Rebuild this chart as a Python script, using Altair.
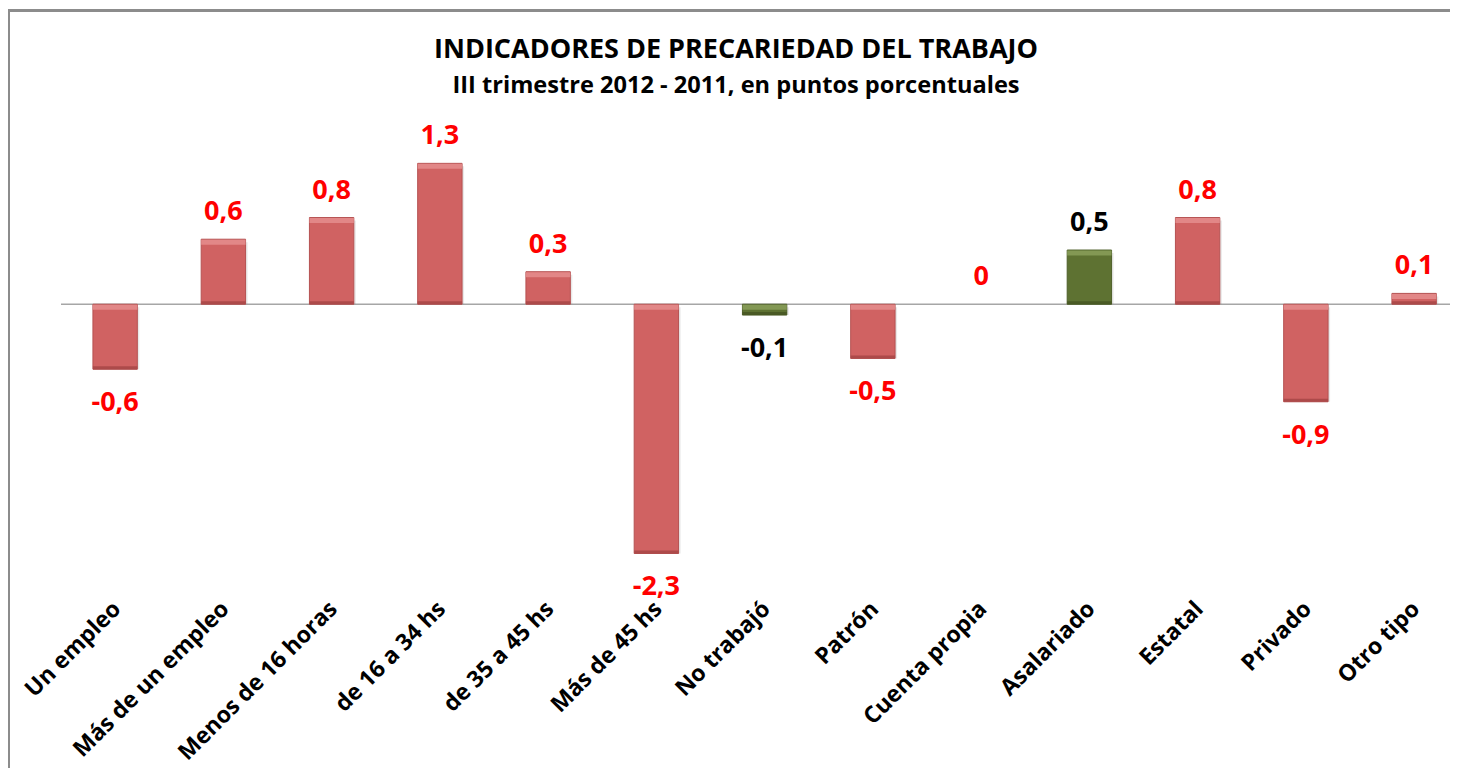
import altair as alt
import pandas as pd

# ---- data ----
categorias = ["Un empleo", "Más de un empleo", "Menos de 16 horas", "de 16 a 34 hs",
              "de 35 a 45 hs", "Más de 45 hs", "No trabajó", "Patrón", "Cuenta propia",
              "Asalariado", "Estatal", "Privado", "Otro tipo"]
valores = [-0.6, 0.6, 0.8, 1.3, 0.3, -2.3, -0.1, -0.5, 0.0, 0.5, 0.8, -0.9, 0.1]
grupo = ["rojo", "rojo", "rojo", "rojo", "rojo", "rojo", "verde", "rojo", "rojo",
         "verde", "rojo", "rojo", "rojo"]

TITULO = "INDICADORES DE PRECARIEDAD DEL TRABAJO"
SUBTITULO = "III trimestre 2012 - 2011, en puntos porcentuales"


def etiqueta(v):
    return "0" if v == 0 else f"{v:.1f}".replace(".", ",")


df = pd.DataFrame({
    "cat": categorias,
    "valor": valores,
    "grupo": grupo,
    "etiqueta": [etiqueta(v) for v in valores],
    "arriba": [max(v, 0.0) for v in valores],
    "abajo": [min(v, 0.0) for v in valores],
})

FONT = "Open Sans"
W, H = 1389, 466
PAD = {"left": 53, "top": 112, "right": 0, "bottom": 182}

x_enc = alt.X("cat:N", sort=categorias,
              scale=alt.Scale(paddingInner=0.59, paddingOuter=0.2107, align=0.70),
              axis=alt.Axis(title=None, labelAngle=315, labelAlign="right",
                            labelBaseline="middle", labelFont=FONT, labelFontWeight="bold",
                            labelFontSize=23, labelColor="#000000", domain=False,
                            ticks=False, grid=False, labelPadding=19, labelOffset=2,
                            labelOverlap=False, labelLimit=400))
y_scale = alt.Scale(domain=[-2.6, 1.7], nice=False, zero=False)
y_enc = alt.Y("valor:Q", scale=y_scale, axis=None)

base = alt.Chart(df)
uno = pd.DataFrame({"a": [0.0]})

marco_sup = alt.Chart(uno).mark_rule(color="#8C8C8C", strokeWidth=3).encode(
    x=alt.value(-53), x2=alt.value(W + 10), y=alt.value(-109.5))
marco_izq = alt.Chart(uno).mark_rule(color="#8C8C8C", strokeWidth=3).encode(
    x=alt.value(-52.5), y=alt.value(-111), y2=alt.value(H + 200))

cero = alt.Chart(uno).mark_rule(color="#A6A6A6", strokeWidth=1.5).encode(
    y=alt.Y("a:Q", scale=y_scale, axis=None), x=alt.value(0), x2=alt.value(W))

sombra = base.transform_filter(alt.datum.valor != 0).mark_bar(
    color="#7F7F7F", opacity=0.18, xOffset=2, yOffset=3
).encode(x=x_enc, y=alt.Y("arriba:Q", scale=y_scale, axis=None), y2=alt.Y2("abajo:Q"))

color_barra = alt.Color("grupo:N", scale=alt.Scale(domain=["rojo", "verde"],
                                                   range=["#D06262", "#5E7232"]), legend=None)
color_luz = alt.Color("grupo:N", scale=alt.Scale(domain=["rojo", "verde"],
                                                 range=["#E58E8E", "#8A9F5A"]), legend=None)
color_borde = alt.Color("grupo:N", scale=alt.Scale(domain=["rojo", "verde"],
                                                   range=["#A94848", "#485824"]), legend=None)

barras = base.transform_filter(alt.datum.valor != 0).mark_bar().encode(
    x=x_enc, y=alt.Y("arriba:Q", scale=y_scale, axis=None), y2=alt.Y2("abajo:Q"),
    color=color_barra, stroke=alt.Stroke("grupo:N", scale=alt.Scale(
        domain=["rojo", "verde"], range=["#B55252", "#4E5F2A"]), legend=None),
    strokeWidth=alt.value(1))

luz = base.transform_filter(alt.datum.valor != 0).mark_tick(
    thickness=5, yOffset=3, opacity=0.85
).encode(x=x_enc, y=alt.Y("arriba:Q", scale=y_scale, axis=None), color=color_luz)

borde = base.transform_filter(alt.datum.valor != 0).mark_tick(
    thickness=3, yOffset=-1.5, opacity=0.9
).encode(x=x_enc, y=alt.Y("abajo:Q", scale=y_scale, axis=None), color=color_borde)

color_txt = alt.Color("grupo:N", scale=alt.Scale(domain=["rojo", "verde"],
                                                 range=["#FF0000", "#000000"]), legend=None)

txt_pos = base.transform_filter(alt.datum.valor >= 0).mark_text(
    font=FONT, fontWeight="bold", fontSize=27, baseline="alphabetic", dy=-19
).encode(x=x_enc, y=y_enc, text="etiqueta:N", color=color_txt)

txt_neg = base.transform_filter(alt.datum.valor < 0).mark_text(
    font=FONT, fontWeight="bold", fontSize=27, baseline="alphabetic", dy=42
).encode(x=x_enc, y=y_enc, text="etiqueta:N", color=color_txt)

titulo = alt.Chart(pd.DataFrame({"t": [TITULO]})).mark_text(
    font=FONT, fontWeight="bold", fontSize=27, baseline="middle", align="center", color="#000000"
).encode(text="t:N", x=alt.value(675), y=alt.value(-70))

subtitulo = alt.Chart(pd.DataFrame({"t": [SUBTITULO]})).mark_text(
    font=FONT, fontWeight="bold", fontSize=23.6, baseline="middle", align="center", color="#000000"
).encode(text="t:N", x=alt.value(675), y=alt.value(-34))

chart = alt.layer(
    marco_sup, marco_izq, cero, sombra, barras, luz, borde, txt_pos, txt_neg, titulo, subtitulo
).resolve_scale(color="independent").properties(
    width=W, height=H, padding=PAD, autosize=alt.AutoSizeParams(type="none"),
    background="#FFFFFF"
).configure_view(strokeWidth=0)

chart.save("out.html", embed_options={"renderer": "svg", "actions": False})
